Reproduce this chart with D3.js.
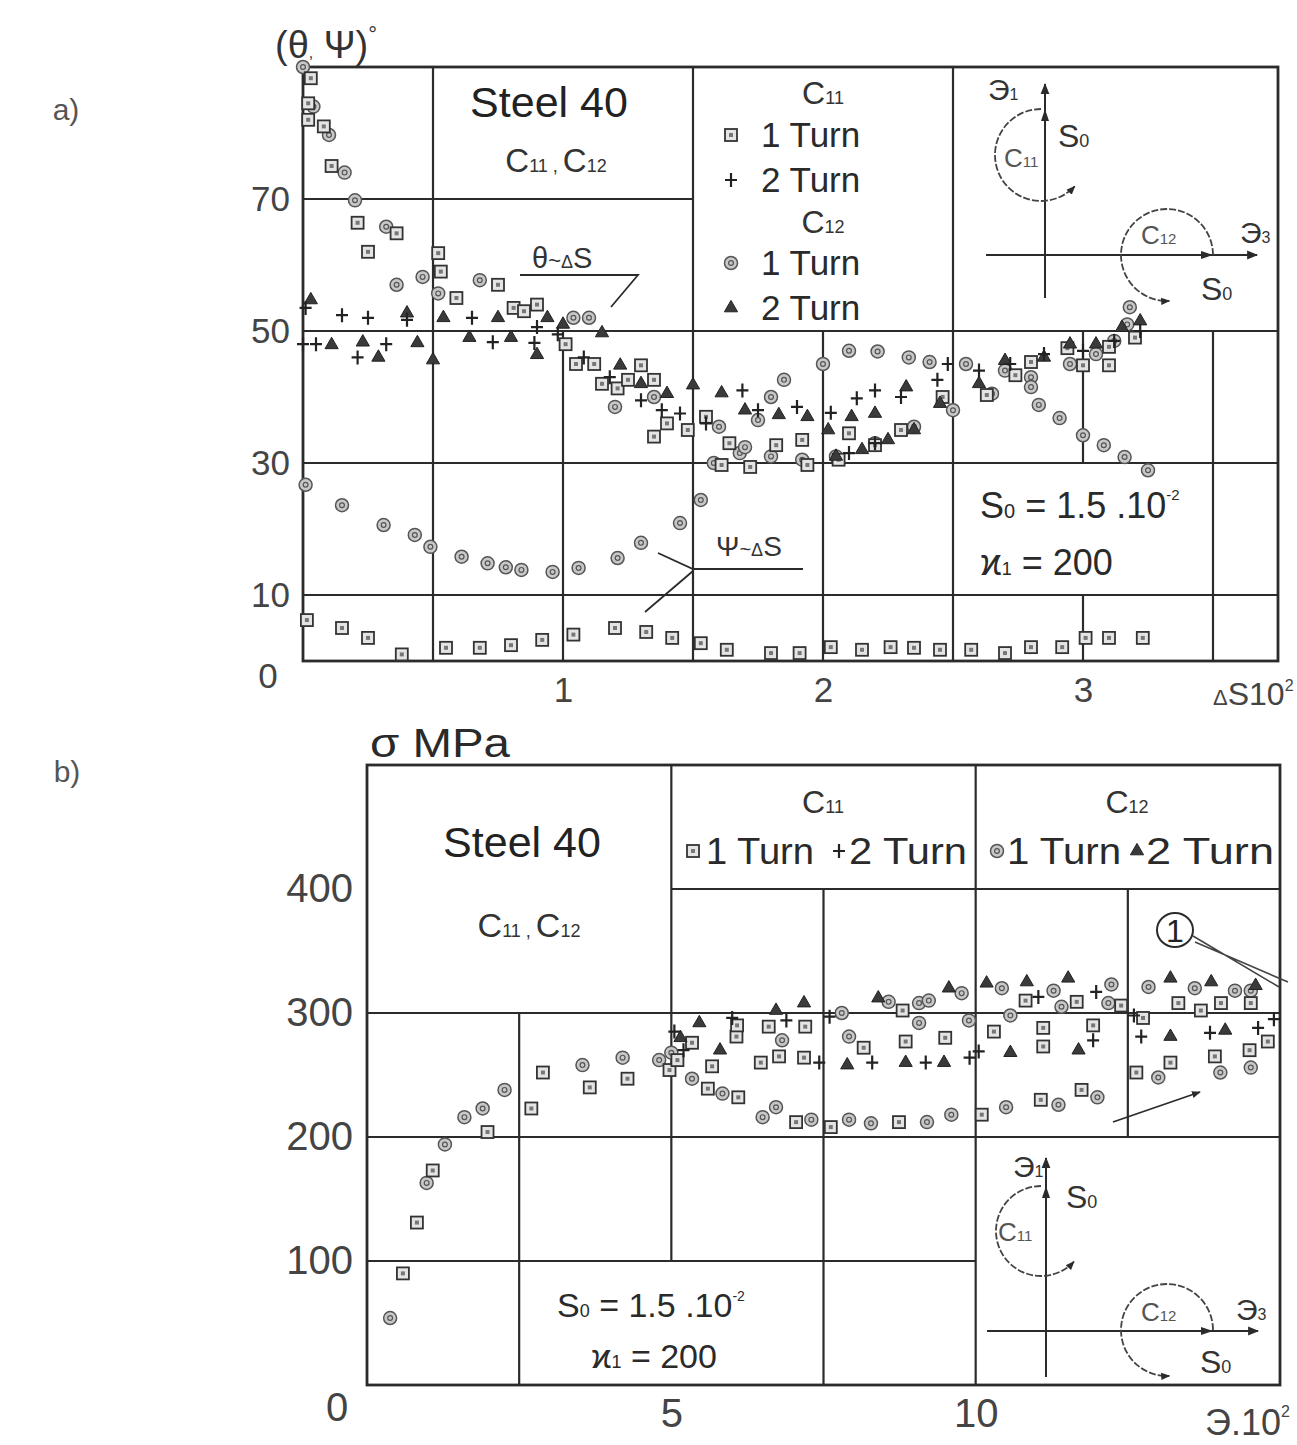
<!DOCTYPE html>
<html>
<head>
<meta charset="utf-8">
<script src="https://cdn.jsdelivr.net/npm/d3@7"></script>
<style>
  body { margin: 0; background: #fff; }
  svg text { font-family: "Liberation Sans", Arial, "DejaVu Sans", sans-serif; fill: #333; }
</style>
</head>
<body>
<div id="chart"></div>
<script>
// ---------- panel a) : angles theta / psi vs dS (x10^2) ----------
const aXTicks = [1, 2, 3];
const aYTicks = [10, 30, 50, 70];
// grid lines: [value, from, to] in data units
const aHGrid = [[10, 0, 3.75], [30, 0, 3.75], [50, 0, 3.75], [70, 0, 1.5]];
const aVGrid = [[0.5, 0, 90], [1, 0, 50], [1.5, 0, 90], [2, 0, 50], [2.5, 0, 90], [3, 30, 50], [3, 0, 10], [3.5, 0, 50]];

const aC11Turn1Theta = [[0.03,88.3],[0.02,84.5],[0.02,82],[0.08,81],[0.11,75],[0.21,66.4],[0.36,64.8],[0.25,62],[0.52,61.8],[0.53,59],[0.59,55],[0.75,57],[0.81,53.5],[0.85,53],[0.9,54],[1.01,48],[1.05,45],[1.12,45],[1.15,42],[1.21,41.3],[1.25,42.6],[1.3,44.8],[1.35,42.6],[1.4,36],[1.35,34],[1.48,35],[1.55,37],[1.64,33],[1.61,29.7],[1.72,29.4],[1.82,32.7],[1.92,33.5],[1.94,29.7],[2.06,30.5],[2.1,34.5],[2.2,32.7],[2.3,35],[2.46,40],[2.63,40.3],[2.74,43.3],[2.8,45.3],[2.94,47.4],[3.0,44.8],[3.1,47.6],[3.1,44.8],[3.2,49]];
const aC11Turn1Psi = [[0.015,6.2],[0.15,5],[0.25,3.5],[0.38,1],[0.55,2],[0.68,2],[0.8,2.4],[0.92,3.2],[1.04,4],[1.2,5],[1.32,4.4],[1.42,3.5],[1.53,2.7],[1.63,1.7],[1.8,1.2],[1.91,1.2],[2.03,2.1],[2.15,1.7],[2.26,2.1],[2.35,2],[2.45,1.7],[2.57,1.7],[2.7,1.2],[2.8,2.1],[2.92,2.1],[3.01,3.5],[3.1,3.5],[3.23,3.5]];
const aC11Turn2 = [[0.01,53.5],[0,48],[0.05,48],[0.15,52.4],[0.21,46],[0.25,52],[0.32,48],[0.4,51.7],[0.65,52],[0.73,48.3],[0.89,48.2],[0.9,50.6],[0.98,49.5],[1.08,46],[1.18,43],[1.3,39.5],[1.38,38],[1.45,37.5],[1.55,36],[1.69,41],[1.75,38],[1.9,38.5],[2.03,37.6],[2.1,31.5],[2.13,39.8],[2.2,41],[2.2,33],[2.3,40],[2.44,42.6],[2.48,45],[2.6,44],[2.72,45],[2.85,46.5],[3.0,47],[3.12,48.5],[3.22,50]];
const aC12Turn1Theta = [[0,90],[0.04,84],[0.1,79.7],[0.16,74],[0.2,69.8],[0.32,65.8],[0.36,57],[0.46,58.2],[0.52,55.7],[0.68,57.7],[1.04,52],[1.1,52],[1.2,38.5],[1.35,40],[1.6,35.5],[1.7,32.4],[1.75,36.5],[1.8,40],[1.85,42.6],[2.0,45],[2.1,47],[2.21,46.9],[2.33,46],[2.41,45.3],[2.55,45],[2.7,44],[2.8,41.5],[2.83,38.8],[2.91,36.8],[3.0,34.2],[3.08,32.7],[3.16,30.9],[3.25,28.9]];
const aC12Turn1Psi = [[0.01,26.7],[0.15,23.6],[0.31,20.6],[0.43,19.1],[0.49,17.3],[0.61,15.8],[0.71,14.8],[0.78,14.2],[0.84,13.8],[0.96,13.5],[1.06,14.1],[1.21,15.6],[1.3,17.9],[1.45,20.9],[1.53,24.4],[1.58,30],[1.68,31.5],[1.8,31],[1.92,30.5],[2.05,31],[2.2,33],[2.35,35.5],[2.5,38],[2.65,40.5],[2.8,43],[2.95,45],[3.05,46.5],[3.12,48.5],[3.17,51],[3.18,53.6]];
const aC12Turn2 = [[0.03,54.7],[0.11,47.9],[0.23,48.3],[0.29,46],[0.4,52.7],[0.44,48.2],[0.5,45.6],[0.54,52],[0.64,49],[0.75,52],[0.8,49],[0.9,46.4],[0.94,52],[1.0,51],[1.15,49.7],[1.22,44.8],[1.3,42],[1.4,40.5],[1.5,41.8],[1.61,40.6],[1.7,38],[1.83,37.3],[1.94,37],[2.02,35],[2.05,31],[2.11,37],[2.15,32],[2.2,37.5],[2.25,33.5],[2.32,41.5],[2.35,35],[2.45,39],[2.6,42],[2.7,45.5],[2.85,46],[2.95,48],[3.05,48],[3.15,50.5],[3.22,51.5]];

// ---------- panel b) : stress sigma vs arc length (x10^2) ----------
const bXTicks = [5, 10];
const bYTicks = [100, 200, 300, 400];
const bHGrid = [[100, 0, 10], [200, 0, 15], [300, 0, 15], [400, 5, 15]];
const bVGrid = [[2.5, 0, 300], [5, 100, 500], [7.5, 0, 400], [10, 0, 500], [12.5, 200, 400]];

const bC11Turn1 = [[0.59,90],[0.82,131],[1.08,173],[1.98,204],[2.7,223],[2.89,252],[3.66,240],[4.28,247],[4.97,254],[5.1,262],[5.34,276],[5.6,239],[5.67,257],[6.07,281],[6.08,290],[6.1,232],[6.47,260],[6.6,289],[6.77,265],[7.05,212],[7.18,264],[7.2,289],[7.62,208],[8.16,272],[8.74,212],[8.8,302],[8.85,277],[9.5,280],[10.1,218],[10.3,285],[10.82,310],[11.07,230],[11.11,288],[11.11,273],[11.66,309],[11.74,238],[11.93,290],[12.39,306],[12.64,252],[12.75,296],[13.2,260],[13.33,308],[13.7,302],[13.93,265],[14.03,308],[14.5,270],[14.52,308],[14.8,277]];
const bC11Turn2 = [[5.05,285],[5.2,270],[6.0,296],[6.89,294],[7.43,260],[7.6,297],[8.3,260],[9.18,260],[9.9,264],[10.05,269],[11.03,313],[11.93,278],[11.98,317],[12.6,298],[12.72,281],[13.85,284],[14.64,288],[14.9,295]];
const bC12Turn1 = [[0.38,54],[0.98,163],[1.28,194],[1.6,216],[1.9,223],[2.26,238],[3.54,258],[4.2,264],[4.8,262],[5.0,268],[5.34,247],[5.84,235],[6.5,216],[6.72,224],[6.82,278],[7.3,214],[7.8,300],[7.92,214],[7.92,281],[8.28,211],[8.57,309],[9.07,308],[9.07,292],[9.2,212],[9.23,310],[9.6,218],[9.77,316],[9.89,294],[10.43,320],[10.5,224],[10.57,298],[11.28,318],[11.36,226],[11.41,305],[12.0,232],[12.18,308],[12.23,323],[12.84,321],[13.0,248],[13.6,320],[14.02,252],[14.26,318],[14.52,318],[14.52,256]];
const bC12Turn2 = [[5.15,280],[5.46,292],[5.8,270],[6.72,302],[7.18,308],[7.89,258],[8.4,312],[8.85,260],[9.48,260],[9.56,320],[10.18,324],[10.57,268],[10.84,325],[11.52,328],[11.69,270],[13.2,328],[13.2,281],[13.87,325],[14.1,286],[14.6,322]];

const W = 1297, H = 1445;
const ink = "#2b2b2b";

const svg = d3.select("#chart").append("svg")
  .attr("width", W).attr("height", H)
  .attr("viewBox", [0, 0, W, H]);

svg.append("rect").attr("width", W).attr("height", H).attr("fill", "#fff");

const defs = svg.append("defs");
defs.append("marker")
  .attr("id", "arrow").attr("viewBox", "0 0 10 10")
  .attr("refX", 9).attr("refY", 5)
  .attr("markerWidth", 9).attr("markerHeight", 9)
  .attr("markerUnits", "userSpaceOnUse")
  .attr("orient", "auto")
  .append("path").attr("d", "M0,1L10,5L0,9Z").attr("fill", ink);
defs.append("marker")
  .attr("id", "arrowBig").attr("viewBox", "0 0 10 10")
  .attr("refX", 9).attr("refY", 5)
  .attr("markerWidth", 13).attr("markerHeight", 11)
  .attr("markerUnits", "userSpaceOnUse")
  .attr("orient", "auto")
  .append("path").attr("d", "M0,1L10,5L0,9Z").attr("fill", ink);

// scales
const xA = d3.scaleLinear().domain([0, 3.75]).range([303, 1278]);
const yA = d3.scaleLinear().domain([0, 90]).range([661, 67]);
const xB = d3.scaleLinear().domain([0, 15]).range([367, 1280]);
const yB = d3.scaleLinear().domain([0, 500]).range([1385, 765]);

function drawGrid(g, x, y, hGrid, vGrid) {
  g.selectAll(".hg").data(hGrid).join("line")
    .attr("x1", d => x(d[1])).attr("x2", d => x(d[2]))
    .attr("y1", d => y(d[0])).attr("y2", d => y(d[0]))
    .attr("stroke", ink).attr("stroke-width", 2.2);
  g.selectAll(".vg").data(vGrid).join("line")
    .attr("x1", d => x(d[0])).attr("x2", d => x(d[0]))
    .attr("y1", d => y(d[1])).attr("y2", d => y(d[2]))
    .attr("stroke", ink).attr("stroke-width", 2.2);
  g.append("rect")
    .attr("x", x.range()[0]).attr("y", y.range()[1])
    .attr("width", x.range()[1] - x.range()[0])
    .attr("height", y.range()[0] - y.range()[1])
    .attr("fill", "none").attr("stroke", ink).attr("stroke-width", 2.8);
}

function drawMarkers(g, pts, kind, x, y) {
  const m = g.append("g").selectAll("g").data(pts).join("g")
    .attr("transform", d => `translate(${x(d[0])},${y(d[1])})`);
  addShape(m, kind);
}

function addShape(m, kind) {
  if (kind === "square") {
    m.append("rect").attr("x", -6).attr("y", -6).attr("width", 12).attr("height", 12)
      .attr("fill", "#e4e4e4").attr("stroke", "#333").attr("stroke-width", 1.8);
    m.append("rect").attr("x", -2).attr("y", -2).attr("width", 4).attr("height", 4)
      .attr("fill", "#777");
  } else if (kind === "circle") {
    m.append("circle").attr("r", 6.5).attr("fill", "#c8c8c8")
      .attr("stroke", "#555").attr("stroke-width", 1.5);
    m.append("circle").attr("r", 2.4).attr("fill", "none")
      .attr("stroke", "#555").attr("stroke-width", 1.2);
  } else if (kind === "plus") {
    m.append("path").attr("d", "M-6,0H6M0,-7V7")
      .attr("stroke", "#222").attr("stroke-width", 2.2).attr("fill", "none");
  } else {
    m.append("path").attr("d", d3.symbol(d3.symbolTriangle, 75))
      .attr("fill", "#3a3a3a").attr("stroke", "#222").attr("stroke-width", 1);
  }
}

function label(g, x, y, size, parts, anchor = "start", opts = {}) {
  const t = g.append("text").attr("x", x).attr("y", y)
    .attr("font-size", size).attr("text-anchor", anchor);
  if (opts.len) t.attr("textLength", opts.len).attr("lengthAdjust", "spacingAndGlyphs");
  if (opts.fill) t.style("fill", opts.fill);
  parts.forEach(p => {
    if (typeof p === "string") { t.append("tspan").text(p); return; }
    const s = t.append("tspan").attr("font-size", p.size).text(p.t);
    if (p.dy) s.attr("dy", p.dy);
  });
  return t;
}

function axes(g, x, y, xTicks, yTicks, size, xPad, yPad) {
  const xg = g.append("g").attr("transform", `translate(0,${y.range()[0]})`)
    .call(d3.axisBottom(x).tickValues(xTicks).tickFormat(d3.format("d")).tickSize(0).tickPadding(xPad));
  xg.select(".domain").remove();
  xg.attr("font-size", size).attr("font-family", null);
  const yg = g.append("g").attr("transform", `translate(${x.range()[0]},0)`)
    .call(d3.axisLeft(y).tickValues(yTicks).tickFormat(d3.format("d")).tickSize(0).tickPadding(yPad));
  yg.select(".domain").remove();
  yg.attr("font-size", size).attr("font-family", null);
  g.selectAll(".tick text").style("fill", "#444");
}

function inset(g, ax, ay, c11, c12) {
  // vertical axis with C11 circle
  g.append("line").attr("x1", ax.x).attr("x2", ax.x).attr("y1", ax.y1).attr("y2", ax.y0)
    .attr("stroke", ink).attr("stroke-width", 2).attr("marker-end", "url(#arrowBig)");
  const p1 = d3.path();
  p1.arc(c11.cx, c11.cy, c11.r, -Math.PI / 2, 0.75, true);
  g.append("path").attr("d", p1.toString()).attr("fill", "none")
    .attr("stroke", "#444").attr("stroke-width", 1.8).attr("stroke-dasharray", "7,2")
    .attr("marker-end", "url(#arrow)");
  g.append("path")
    .attr("d", `M${ax.x - 4},${c11.cy - c11.r + 12}L${ax.x},${c11.cy - c11.r}L${ax.x + 4},${c11.cy - c11.r + 12}Z`)
    .attr("fill", ink);
  // horizontal axis with C12 circle
  g.append("line").attr("x1", ay.x0).attr("x2", ay.x1).attr("y1", ay.y).attr("y2", ay.y)
    .attr("stroke", ink).attr("stroke-width", 2).attr("marker-end", "url(#arrowBig)");
  const p2 = d3.path();
  p2.arc(c12.cx, c12.cy, c12.r, 0, Math.PI / 2 - 0.05, true);
  g.append("path").attr("d", p2.toString()).attr("fill", "none")
    .attr("stroke", "#444").attr("stroke-width", 1.8).attr("stroke-dasharray", "7,2")
    .attr("marker-end", "url(#arrow)");
  const hx = c12.cx + c12.r;
  g.append("path")
    .attr("d", `M${hx - 12},${ay.y - 4}L${hx},${ay.y}L${hx - 12},${ay.y + 4}Z`)
    .attr("fill", ink);
}

// ================= panel a =================
const ga = svg.append("g");
drawGrid(ga, xA, yA, aHGrid, aVGrid);
axes(ga, xA, yA, aXTicks, aYTicks, 35, 16, 13);

drawMarkers(ga, aC11Turn1Psi, "square", xA, yA);
drawMarkers(ga, aC12Turn1Psi, "circle", xA, yA);
drawMarkers(ga, aC12Turn1Theta, "circle", xA, yA);
drawMarkers(ga, aC11Turn1Theta, "square", xA, yA);
drawMarkers(ga, aC12Turn2, "triangle", xA, yA);
drawMarkers(ga, aC11Turn2, "plus", xA, yA);

label(ga, 66, 120, 30, ["a)"], "middle", { fill: "#555" });
label(ga, 268, 688, 35, ["0"], "middle", { fill: "#444" });
label(ga, 1213, 705, 32, [{ t: "Δ", size: 22 }, "S10", { t: "2", size: 16, dy: -14 }], "start", { fill: "#444" });
label(ga, 275, 58, 38, ["(θ", { t: ",", size: 16 }, " Ψ)", { t: "°", size: 22, dy: -16 }], "start", { fill: "#333" });

label(ga, 549, 117, 43, ["Steel 40"], "middle", { fill: "#222" });
label(ga, 556, 172, 33, ["C", { t: "11", size: 18 }, { t: " , ", size: 18 }, "C", { t: "12", size: 18 }], "middle");

// legend a
label(ga, 823, 104, 32, ["C", { t: "11", size: 18 }], "middle");
label(ga, 823, 233, 32, ["C", { t: "12", size: 18 }], "middle");
[[135, "square", "1 Turn"], [180, "plus", "2 Turn"], [263, "circle", "1 Turn"], [308, "triangle", "2 Turn"]]
  .forEach(([yy, kind, txt]) => {
    addShape(ga.append("g").attr("transform", `translate(731,${yy})`), kind);
    label(ga, 761, yy + 12, 35, [txt], "start", { fill: "#2a2a2a" });
  });

// inset a
inset(ga, { x: 1045, y0: 84, y1: 298 }, { x0: 986, x1: 1257, y: 255 },
  { cx: 1041, cy: 155, r: 46 }, { cx: 1167, cy: 255, r: 46 });
label(ga, 988, 100, 30, ["Э", { t: "1", size: 16 }]);
label(ga, 1058, 147, 32, ["S", { t: "0", size: 18 }]);
label(ga, 1004, 167, 26, ["C", { t: "11", size: 15 }], "start", { fill: "#555" });
label(ga, 1240, 243, 30, ["Э", { t: "3", size: 16 }]);
label(ga, 1201, 300, 32, ["S", { t: "0", size: 18 }]);
label(ga, 1141, 244, 26, ["C", { t: "12", size: 15 }], "start", { fill: "#555" });

label(ga, 980, 518, 36, ["S", { t: "0", size: 20 }, " = 1.5 .10", { t: "-2", size: 15, dy: -18 }], "start", { fill: "#2a2a2a" });
label(ga, 980, 575, 36, ["ϰ", { t: "1", size: 18 }, " = 200"], "start", { fill: "#2a2a2a" });

// theta / psi annotations
label(ga, 532, 268, 29, ["θ", { t: "~", size: 22 }, { t: "Δ", size: 18 }, "S"], "start", { fill: "#333" });
ga.append("path").attr("d", "M520,275H638L611,307")
  .attr("fill", "none").attr("stroke", ink).attr("stroke-width", 1.8);
label(ga, 716, 556, 28, ["Ψ", { t: "~", size: 20 }, { t: "Δ", size: 18 }, "S"], "start", { fill: "#333" });
ga.append("path").attr("d", "M803,569H693L658,553M693,571L645,612")
  .attr("fill", "none").attr("stroke", ink).attr("stroke-width", 1.8);

// ================= panel b =================
const gb = svg.append("g");
drawGrid(gb, xB, yB, bHGrid, bVGrid);
axes(gb, xB, yB, bXTicks, bYTicks, 40, 14, 14);

drawMarkers(gb, bC12Turn1, "circle", xB, yB);
drawMarkers(gb, bC11Turn1, "square", xB, yB);
drawMarkers(gb, bC12Turn2, "triangle", xB, yB);
drawMarkers(gb, bC11Turn2, "plus", xB, yB);

label(gb, 67, 782, 30, ["b)"], "middle", { fill: "#555" });
label(gb, 337, 1421, 40, ["0"], "middle", { fill: "#444" });
label(gb, 1205, 1435, 36, ["Э.10", { t: "2", size: 16, dy: -18 }], "start", { fill: "#444" });
label(gb, 370, 757, 40, ["σ MPa"], "start", { fill: "#2a2a2a", len: 140 });

label(gb, 522, 857, 43, ["Steel 40"], "middle", { fill: "#222" });
label(gb, 529, 937, 34, ["C", { t: "11", size: 18 }, { t: " , ", size: 18 }, "C", { t: "12", size: 18 }], "middle");

// legend b
label(gb, 823, 813, 32, ["C", { t: "11", size: 18 }], "middle");
label(gb, 1127, 813, 32, ["C", { t: "12", size: 18 }], "middle");
[[693, "square", 706, "1 Turn", 108], [839, "plus", 849, "2 Turn", 118],
 [997, "circle", 1007, "1 Turn", 114], [1137, "triangle", 1146, "2 Turn", 128]]
  .forEach(([mx, kind, tx, txt, len]) => {
    addShape(gb.append("g").attr("transform", `translate(${mx},851)`), kind);
    label(gb, tx, 864, 36, [txt], "start", { fill: "#2a2a2a", len: len });
  });

// note (1) with leaders
gb.append("ellipse").attr("cx", 1175).attr("cy", 930).attr("rx", 18).attr("ry", 17)
  .attr("fill", "#fff").attr("stroke", ink).attr("stroke-width", 2);
label(gb, 1175, 942, 32, ["1"], "middle", { fill: "#222" });
gb.append("path").attr("d", "M1193,936L1279,987M1195,942L1288,982")
  .attr("fill", "none").attr("stroke", "#444").attr("stroke-width", 1.6);
gb.append("line").attr("x1", 1113).attr("y1", 1122).attr("x2", 1200).attr("y2", 1092)
  .attr("stroke", ink).attr("stroke-width", 1.8).attr("marker-end", "url(#arrow)");

// inset b
inset(gb, { x: 1046, y0: 1158, y1: 1377 }, { x0: 987, x1: 1258, y: 1331 },
  { cx: 1041, cy: 1231, r: 45 }, { cx: 1167, cy: 1330, r: 46 });
label(gb, 1013, 1177, 30, ["Э", { t: "1", size: 16 }]);
label(gb, 1066, 1208, 32, ["S", { t: "0", size: 18 }]);
label(gb, 998, 1241, 26, ["C", { t: "11", size: 15 }], "start", { fill: "#555" });
label(gb, 1236, 1320, 30, ["Э", { t: "3", size: 16 }]);
label(gb, 1200, 1373, 32, ["S", { t: "0", size: 18 }]);
label(gb, 1141, 1321, 26, ["C", { t: "12", size: 15 }], "start", { fill: "#555" });

label(gb, 557, 1317, 34, ["S", { t: "0", size: 18 }, " = 1.5 .10", { t: "-2", size: 14, dy: -16 }], "start", { fill: "#2a2a2a" });
label(gb, 591, 1368, 34, ["ϰ", { t: "1", size: 18 }, " = 200"], "start", { fill: "#2a2a2a" });
</script>
</body>
</html>
